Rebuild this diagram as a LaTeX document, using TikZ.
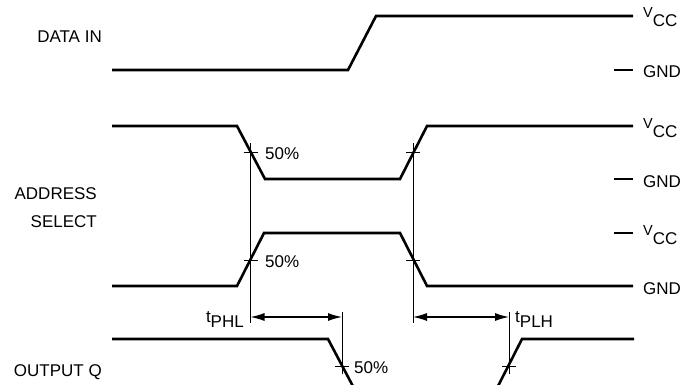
\documentclass[tikz,border=0pt]{standalone}
\usepackage{fontspec}
\setmainfont{Liberation Sans}
\usetikzlibrary{arrows.meta}
\newcommand{\pfx}[3]{\raisebox{#1}{#2}#3}
\begin{document}
\begin{tikzpicture}[x=1pt,y=-1pt,
  wave/.style={line width=2.6pt,line join=miter,line cap=butt},
  thin/.style={line width=1pt},
  dim/.style={line width=1.2pt,{Latex[length=14pt,width=8pt]}-{Latex[length=14pt,width=8pt]}},
  lab/.style={inner sep=0pt,font=\fontsize{17}{20}\selectfont},
  tick/.style={line width=1pt}]
\useasboundingbox (0,0) rectangle (693,385);
\clip (0,0) rectangle (693,385);
% ---------- DATA IN ----------
\coordinate (d0) at (112,70);
\coordinate (d1) at (348,70);
\coordinate (d2) at (376,16);
\coordinate (d3) at (633,16);
\draw[wave] (d0) -- (d1) -- (d2) -- (d3);
\coordinate (g1a) at (614,70); \coordinate (g1b) at (633,70);
\draw[wave] (g1a) -- (g1b);
\node[lab,anchor=base east] (ldata) at (102,43) {DATA IN};
\node[lab,anchor=base west] (v1) at (643,27) {\pfx{9pt}{\fontsize{14.5}{15}\selectfont V}{CC}};
\node[lab,anchor=base west] (gn1) at (643,78) {GND};
% ---------- ADDRESS SELECT (1) ----------
\coordinate (a0) at (112,126);
\coordinate (a1) at (237,126);
\coordinate (a2) at (265,179);
\coordinate (a3) at (400,179);
\coordinate (a4) at (427,126);
\coordinate (a5) at (633,126);
\draw[wave] (a0) -- (a1) -- (a2) -- (a3) -- (a4) -- (a5);
\coordinate (g2a) at (614,179); \coordinate (g2b) at (633,179);
\draw[wave] (g2a) -- (g2b);
\node[lab,anchor=base west] (v2) at (643,137) {\pfx{9pt}{\fontsize{14.5}{15}\selectfont V}{CC}};
\node[lab,anchor=base west] (gn2) at (643,187) {GND};
% ---------- ADDRESS SELECT (2) ----------
\coordinate (b0) at (112,286);
\coordinate (b1) at (237,286);
\coordinate (b2) at (264,233);
\coordinate (b3) at (400,233);
\coordinate (b4) at (427,286);
\coordinate (b5) at (633,286);
\draw[wave] (b0) -- (b1) -- (b2) -- (b3) -- (b4) -- (b5);
\coordinate (v3a) at (614,233); \coordinate (v3b) at (633,233);
\draw[wave] (v3a) -- (v3b);
\node[lab,anchor=base west] (v3) at (643,244) {\pfx{9pt}{\fontsize{14.5}{15}\selectfont V}{CC}};
\node[lab,anchor=base west] (gn3) at (643,294) {GND};
\node[lab,anchor=base east] (laddr) at (97,199) {ADDRESS};
\node[lab,anchor=base east] (lsel) at (97,227) {SELECT};
% ---------- OUTPUT Q ----------
\coordinate (q0) at (112,339);
\coordinate (q1) at (328,339);
\coordinate (q2) at (356,392);
\coordinate (q3) at (495,392);
\coordinate (q4) at (522,339);
\coordinate (q5) at (634,339);
\draw[wave] (q0) -- (q1) -- (q2) -- (q3) -- (q4) -- (q5);
\node[lab,anchor=base east] (lout) at (102,376) {OUTPUT Q};
% ---------- reference lines and 50% ticks ----------
\coordinate (L1t) at (250.5,143); \coordinate (L1b) at (250.5,323);
\coordinate (L2t) at (413,143);   \coordinate (L2b) at (413,323);
\coordinate (L3t) at (342,312);   \coordinate (L3b) at (342,374);
\coordinate (L4t) at (509,312);   \coordinate (L4b) at (509,374);
\draw[thin] (L1t) -- (L1b);
\draw[thin] (L2t) -- (L2b);
\draw[thin] (L3t) -- (L3b);
\draw[thin] (L4t) -- (L4b);
\foreach \x/\y in {250.5/152.5, 250.5/260, 413/152.5, 413/260, 342/366.5, 509/366.5}
  \draw[tick] (\x-7,\y) -- (\x+7,\y);
\node[lab,anchor=base west] (p1) at (265,159) {50\%};
\node[lab,anchor=base west] (p2) at (265,267) {50\%};
\node[lab,anchor=base west] (p3) at (354,373) {50\%};
% ---------- delay arrows ----------
\coordinate (h1) at (250.5,317); \coordinate (h2) at (342,317);
\coordinate (h3) at (413,317);   \coordinate (h4) at (509,317);
\draw[dim] (h1) -- (h2);
\draw[dim] (h3) -- (h4);
\node[lab,anchor=base east] (tphl) at (244,327) {\pfx{5pt}{t}{PHL}};
\node[lab,anchor=base west] (tplh) at (515,327) {\pfx{5pt}{t}{PLH}};
\end{tikzpicture}
\end{document}
